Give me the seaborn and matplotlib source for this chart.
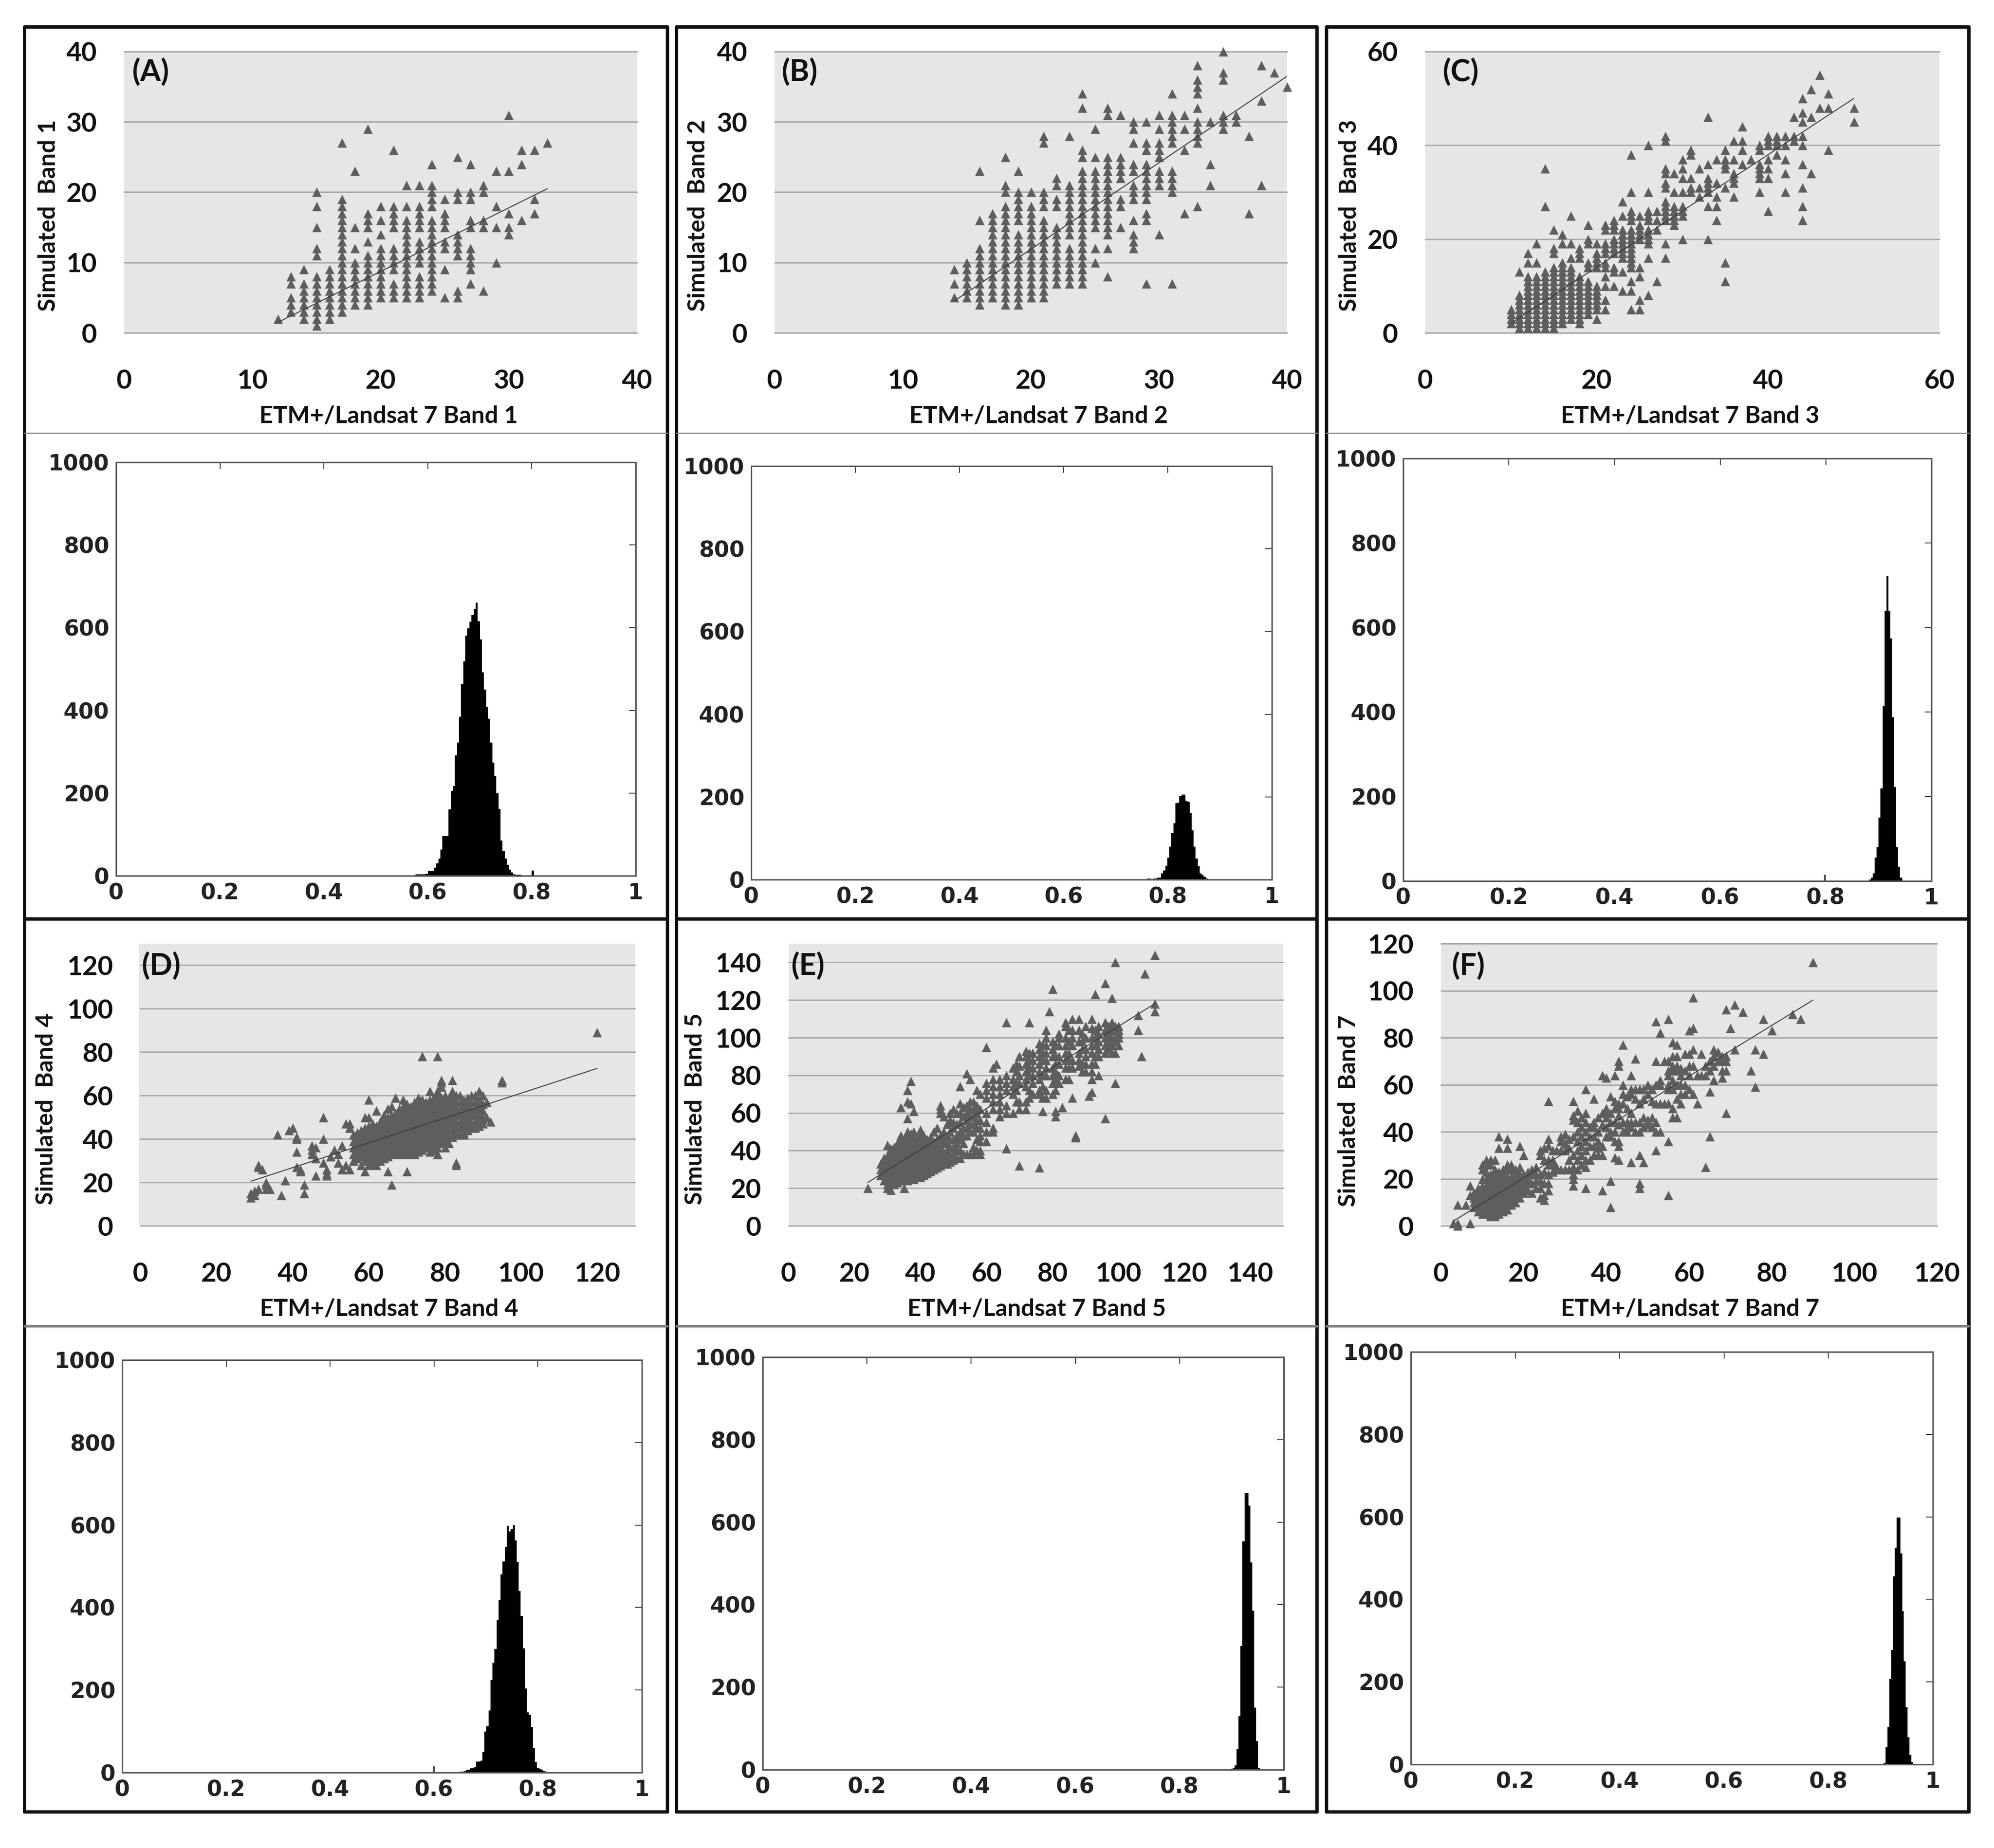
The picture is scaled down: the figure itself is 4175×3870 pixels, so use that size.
#!/usr/bin/env python3
# Simulated vs. ETM+/Landsat 7 bands: scatter and histogram for each band

import matplotlib
matplotlib.use("Agg")
import matplotlib.pyplot as plt
from matplotlib.lines import Line2D
import numpy as np
import seaborn as sns

# Band 1: one entry per x, with all y values of that column
band1_x = [12, 13, 14, 15, 16, 17, 18, 19, 20, 21, 22, 23, 24, 25, 26, 27, 28, 29, 30, 31, 32, 33]
band1_y = [
    [2], [3, 4, 5, 7, 8], [2, 3, 4, 5, 6, 7, 9], [1, 2, 3, 4, 5, 6, 7, 8, 11, 12, 15, 18, 20],
    [2, 3, 4, 5, 6, 7, 8, 9], [3, 4, 5, 6, 7, 8, 9, 10, 11, 12, 13, 14, 15, 16, 17, 18, 19, 27],
    [4, 5, 6, 7, 8, 9, 10, 12, 15, 23], [4, 5, 6, 7, 8, 9, 10, 11, 13, 15, 16, 17, 29],
    [5, 6, 7, 8, 9, 10, 11, 12, 14, 16, 18], [5, 6, 7, 9, 10, 11, 12, 15, 16, 17, 18, 26],
    [5, 6, 7, 8, 9, 10, 11, 12, 13, 14, 15, 16, 18, 21], [5, 6, 7, 8, 10, 11, 12, 13, 15, 16, 17, 18, 21],
    [6, 7, 8, 9, 10, 11, 12, 13, 14, 15, 16, 18, 19, 20, 21, 24], [5, 9, 12, 13, 15, 16, 17, 19],
    [5, 6, 11, 12, 13, 14, 19, 20, 25], [7, 9, 10, 11, 12, 15, 16, 19, 20, 24], [6, 15, 16, 20, 21],
    [10, 15, 18, 23], [14, 15, 17, 23, 31], [16, 24, 26], [17, 19, 26], [27],
]
band1_fit_x = [12, 33]
band1_fit_y = [1.5, 20.5]

band2_x = [14, 15, 16, 17, 18, 19, 20, 21, 22, 23, 24, 25, 26, 27, 28, 29, 30, 31, 32, 33, 34, 35, 36, 37, 38, 39, 40]
band2_y = [
    [5, 7, 9], [5, 6, 7, 8, 9, 10], [4, 5, 6, 7, 8, 9, 10, 11, 12, 16, 23],
    [5, 6, 7, 8, 9, 10, 11, 12, 13, 14, 15, 16, 17],
    [4, 5, 6, 7, 8, 9, 10, 11, 12, 13, 14, 15, 16, 17, 18, 20, 21, 25],
    [4, 5, 6, 7, 8, 9, 10, 11, 12, 13, 14, 16, 17, 18, 19, 20, 23],
    [5, 6, 7, 8, 9, 10, 11, 12, 13, 14, 15, 16, 17, 18, 20],
    [5, 6, 7, 8, 9, 10, 11, 12, 13, 14, 15, 16, 18, 19, 20, 27, 28],
    [7, 8, 9, 10, 11, 12, 13, 14, 15, 18, 19, 21, 22],
    [7, 8, 9, 10, 11, 12, 14, 15, 16, 17, 18, 19, 20, 21, 28],
    [7, 8, 9, 10, 11, 12, 13, 14, 15, 16, 17, 18, 19, 20, 21, 22, 23, 25, 26, 32, 34],
    [10, 12, 15, 16, 17, 18, 19, 20, 21, 22, 23, 25, 29],
    [8, 12, 14, 15, 16, 17, 18, 19, 20, 21, 22, 23, 24, 25, 31, 32],
    [15, 18, 19, 22, 23, 24, 25, 31], [12, 13, 14, 16, 19, 20, 21, 23, 24, 27, 29, 30],
    [7, 16, 17, 19, 20, 21, 22, 23, 24, 26, 27, 30], [14, 21, 22, 23, 25, 26, 27, 29, 31],
    [7, 20, 21, 22, 23, 27, 28, 29, 30, 31, 34], [17, 26, 29, 31], [18, 27, 28, 29, 30, 32, 34, 35, 36, 38],
    [21, 24, 30], [29, 30, 31, 36, 37, 40], [30, 31], [17, 28], [21, 33, 38], [37], [35],
]
band2_fit_x = [14, 40]
band2_fit_y = [4.5, 36.5]

band3_x = [10, 11, 12, 13, 14, 15, 16, 17, 18, 19, 20, 21, 22, 23, 24, 25, 26, 27, 28, 29, 30, 31, 32, 33,
           34, 35, 36, 37, 38, 39, 40, 41, 42, 43, 44, 45, 46, 47, 50]
band3_y = [
    [2, 3, 4, 5], [1, 2, 3, 4, 5, 6, 7, 8, 13], [1, 2, 3, 4, 5, 6, 7, 8, 9, 10, 11, 12, 15, 17],
    [1, 2, 3, 4, 5, 6, 7, 8, 9, 10, 11, 12, 15, 19], [1, 2, 3, 4, 5, 6, 7, 8, 9, 10, 11, 12, 13, 27, 35],
    [1, 2, 3, 4, 5, 6, 7, 8, 9, 10, 11, 12, 13, 14, 17, 18, 22],
    [2, 3, 4, 5, 6, 7, 8, 9, 10, 11, 12, 13, 14, 15, 19, 21],
    [3, 4, 5, 6, 7, 8, 9, 10, 11, 12, 13, 14, 16, 19, 25], [2, 3, 4, 5, 6, 7, 8, 9, 10, 11, 12, 16, 17, 18],
    [4, 5, 6, 7, 8, 9, 10, 11, 14, 15, 19, 20, 23], [3, 5, 6, 7, 8, 9, 10, 14, 15, 16, 17, 19],
    [5, 7, 10, 12, 14, 15, 17, 18, 19, 22, 23], [10, 13, 14, 17, 18, 19, 20, 22, 23, 24],
    [9, 13, 16, 17, 18, 19, 20, 21, 22, 25, 28], [5, 9, 11, 14, 15, 16, 17, 18, 19, 20, 21, 22, 24, 25, 26, 30, 38],
    [5, 7, 12, 14, 20, 21, 22, 23, 25], [8, 16, 19, 20, 21, 22, 24, 25, 26, 30, 40], [11, 22, 24, 26],
    [16, 19, 24, 25, 26, 27, 28, 31, 32, 34, 35, 41, 42], [23, 24, 25, 26, 27, 30, 34],
    [20, 25, 26, 27, 30, 33, 35, 37], [30, 31, 33, 38, 39], [29, 31, 35], [20, 27, 30, 31, 32, 33, 36, 46],
    [24, 27, 29, 32, 37], [11, 15, 31, 35, 36, 37, 39], [29, 32, 33, 34, 37, 41], [36, 39, 41, 44], [37],
    [30, 33, 34, 35, 36, 39, 40], [26, 33, 35, 37, 40, 41, 42], [38, 40, 41, 42], [30, 34, 37, 40, 42],
    [41, 42, 46], [24, 27, 31, 36, 40, 42, 45, 47, 50], [34, 46, 52], [48, 55], [39, 48, 51], [45, 48],
]
band3_fit_x = [10, 50]
band3_fit_y = [2, 50]

# Bands 4, 5 and 7 have a dense cloud (columns) and scattered single points
band4_x = [56, 58, 60, 62, 64, 66, 68, 70, 72, 74, 76, 78, 80, 82, 84, 86, 88, 90,
           57, 59, 61, 63, 65, 67, 69, 71, 73, 75, 77, 79, 81, 83, 85, 87, 89]
band4_y = [
    [30, 33, 36, 39, 42], [28, 32, 35, 38, 41, 44], [28, 31, 34, 37, 40, 43, 46], [28, 31, 34, 37, 40, 43, 46],
    [31, 34, 37, 40, 43, 46, 49], [33, 36, 39, 42, 45, 48, 51], [33, 36, 39, 42, 45, 48, 51, 54],
    [33, 36, 39, 42, 45, 48, 51, 54, 56], [33, 36, 39, 42, 45, 48, 51, 54, 57],
    [35, 38, 41, 44, 47, 50, 53, 56, 58], [34, 37, 40, 43, 46, 49, 52, 55, 58],
    [33, 36, 39, 42, 45, 48, 51, 54, 57, 60], [36, 39, 42, 45, 48, 51, 54, 57, 60],
    [41, 44, 47, 50, 53, 56, 59, 61], [42, 45, 48, 51, 54, 57, 60], [44, 47, 50, 53, 56, 59],
    [45, 48, 51, 54, 57, 60], [47, 50, 53, 56],
    [31, 34, 37, 40, 43], [30, 33, 36, 39, 42, 45], [29, 32, 35, 38, 41, 44, 47], [30, 33, 36, 39, 42, 45, 48],
    [32, 35, 38, 41, 44, 47, 50], [34, 37, 40, 43, 46, 49, 52], [34, 37, 40, 43, 46, 49, 52, 55],
    [34, 37, 40, 43, 46, 49, 52, 55], [34, 37, 40, 43, 46, 49, 52, 55, 58], [36, 39, 42, 45, 48, 51, 54, 57],
    [35, 38, 41, 44, 47, 50, 53, 56, 59], [38, 41, 44, 47, 50, 53, 56, 59], [38, 41, 44, 47, 50, 53, 56, 59],
    [42, 45, 48, 51, 54, 57, 60], [43, 46, 49, 52, 55, 58], [45, 48, 51, 54, 57, 60], [46, 49, 52, 55, 58],
]
band4_sparse_x = [120, 74, 78, 95, 95, 82, 79, 79, 29, 29, 30, 30, 31, 33, 33, 33, 34, 37, 38, 43, 43, 31, 31, 32,
                  36, 39, 40, 41, 41, 41, 41, 42, 42, 46, 45, 45, 45, 46, 46, 48, 48, 48, 49, 49, 49, 50, 51, 52,
                  52, 53, 54, 54, 55, 55, 56, 55, 53, 59, 65, 66, 70, 83, 83, 60, 60, 59, 60, 62, 64, 65, 66, 67,
                  69, 73, 76, 78, 79, 82, 89, 90, 91, 91, 92, 90, 85, 77, 78]
band4_sparse_y = [89, 78, 78, 66, 67, 67, 66, 67, 13, 15, 14, 16, 17, 17, 19, 20, 17, 14, 21, 15, 19, 27, 28, 26,
                  42, 44, 45, 41, 40, 34, 27, 25, 26, 23, 37, 35, 33, 36, 31, 40, 50, 29, 26, 23, 24, 32, 35, 33,
                  29, 37, 28, 47, 47, 45, 30, 26, 26, 25, 25, 19, 25, 28, 29, 58, 45, 50, 50, 53, 51, 54, 55, 59,
                  58, 59, 62, 62, 64, 62, 62, 60, 57, 50, 48, 49, 42, 35, 33]
band4_fit_x = [29, 120]
band4_fit_y = [20.5, 72.5]

band5_x = [28, 30, 32, 34, 36, 38, 40, 42, 44, 46, 48, 50, 52, 54, 56, 58, 60, 62, 64, 66, 68, 70, 72, 74, 76, 78,
           80, 82, 84, 86, 88, 90, 92, 94, 96, 98, 100,
           29, 31, 33, 35, 37, 39, 41, 43, 45, 47, 49, 51, 53, 55, 57, 69, 73, 77, 81, 85, 89, 93, 97, 99]
band5_y = [
    [27, 30, 33], [22, 25, 28, 31, 34, 37, 43], [22, 25, 28, 31, 34, 37, 40, 42],
    [24, 27, 30, 33, 36, 39, 42, 45, 48], [24, 27, 30, 33, 36, 39, 42, 45, 48, 50],
    [25, 28, 31, 34, 37, 40, 43, 46, 50], [26, 29, 32, 35, 38, 41, 44, 48, 51], [28, 31, 34, 37, 40, 43, 46],
    [30, 33, 36, 39, 42, 45, 50], [32, 35, 38, 42, 46, 48, 60, 62, 64], [33, 36, 40, 44, 47, 54],
    [35, 38, 42, 46, 52, 55, 62], [36, 40, 46, 50, 55, 60, 65], [38, 48, 52, 56, 60, 64],
    [38, 42, 50, 54, 58, 62, 66], [38, 40, 45, 48, 52, 56, 62, 70], [45, 50, 55, 60, 68, 72, 76],
    [50, 52, 62, 66, 70, 74, 78], [58, 62, 66, 70, 74, 78], [60, 64, 72, 76, 80], [60, 70, 74, 78, 84],
    [62, 66, 76, 80, 85, 90], [62, 66, 74, 78, 82, 86, 90, 93], [70, 76, 80, 84, 88, 92],
    [70, 72, 78, 82, 86, 90, 94, 97], [68, 72, 80, 84, 88, 92, 96, 100, 104], [70, 76, 80, 84, 90, 94, 98],
    [76, 80, 86, 90, 96, 100, 102], [78, 84, 88, 92, 96, 100, 106, 108], [84, 88, 96, 100, 104, 110],
    [85, 88, 92, 98, 104, 110], [82, 86, 90, 94, 100, 106], [78, 82, 86, 92, 96, 100, 105, 110],
    [80, 90, 94, 98, 102, 106], [92, 96, 100, 104, 108], [92, 96, 100, 104, 108], [96, 100, 102, 104, 106],
    [24, 27, 30, 33, 36], [23, 26, 29, 32, 35, 38, 41], [23, 26, 29, 32, 35, 38, 41, 44],
    [25, 28, 31, 34, 37, 40, 43, 46], [25, 28, 31, 34, 37, 40, 43, 46, 49], [26, 29, 32, 35, 38, 41, 44, 47],
    [27, 30, 33, 36, 39, 42, 45, 48], [29, 32, 35, 38, 41, 44, 47], [31, 34, 37, 40, 43, 46, 52],
    [33, 36, 39, 44, 48, 50, 58], [34, 38, 42, 46, 50, 56, 60], [36, 40, 44, 48, 54, 60], [38, 44, 48, 52, 58, 63],
    [38, 50, 54, 58, 62, 66], [40, 46, 52, 56, 60, 64, 72], [66, 72, 76, 82, 86], [68, 72, 80, 84, 88, 92],
    [68, 74, 80, 88, 92, 96], [72, 78, 82, 86, 90, 96], [78, 84, 88, 92, 98, 104], [82, 86, 94, 98, 102],
    [86, 90, 96, 100, 104], [94, 98, 102, 106], [92, 98, 100, 104, 106],
]
band5_sparse_x = [111, 99, 108, 96, 80, 93, 98, 111, 111, 106, 79, 106, 107, 66, 73, 60, 63, 62, 54, 55, 52, 37, 36,
                  36, 37, 34, 38, 36, 99, 96, 91, 92, 86, 83, 81, 81, 77, 87, 87, 66, 70, 76, 24, 30, 35, 31]
band5_sparse_y = [144, 140, 134, 129, 126, 123, 121, 118, 114, 112, 114, 104, 90, 108, 108, 95, 86, 84, 81, 78, 74,
                  77, 72, 66, 65, 63, 61, 57, 76, 57, 69, 71, 68, 63, 58, 61, 61, 47, 48, 41, 32, 31, 20, 20, 20, 19]
band5_fit_x = [24, 111]
band5_fit_y = [23, 118]

band7_x = [8, 9, 10, 11, 12, 13, 14, 15, 16, 17, 18, 19, 20, 22, 23, 24, 25, 26, 28, 29, 30, 32, 33, 34, 35, 36, 38,
           39, 40, 41, 42, 43, 44, 45, 46, 47, 48, 49, 50, 51, 52, 53, 54, 55, 56, 57, 58, 59, 60, 61, 62, 63, 64,
           65, 66, 67, 68, 69, 21, 27, 31, 37]
band7_y = [
    [8, 10, 12, 14], [6, 8, 10, 12, 14, 16], [5, 7, 9, 11, 13, 15, 17, 20, 24, 26],
    [5, 7, 9, 11, 13, 15, 17, 20, 23, 26, 28],
    [4, 6, 8, 10, 12, 14, 16, 18, 20, 22, 26, 28], [4, 6, 8, 10, 12, 14, 16, 18, 20, 22, 24, 28],
    [5, 7, 9, 11, 13, 15, 17, 19, 21, 23], [6, 8, 10, 12, 14, 16, 18, 20, 22, 24],
    [7, 9, 11, 13, 15, 17, 19, 21, 24, 26],
    [9, 11, 13, 15, 17, 19, 21, 24, 26], [10, 12, 14, 16, 18, 20, 22, 24], [12, 14, 16, 18, 20, 22, 25],
    [14, 16, 18, 20, 22],
    [14, 18, 22, 24], [16, 19, 22, 25], [12, 16, 19, 22, 30, 32], [11, 13, 18, 23, 28, 33],
    [15, 18, 22, 26, 28, 34, 37], [24, 25, 32], [24, 32, 36, 38], [24, 32, 35, 39],
    [20, 22, 25, 30, 38, 45, 47], [24, 28, 32, 36, 40, 44, 49], [26, 30, 34, 38, 42, 46],
    [25, 28, 32, 36, 40, 44, 48], [28, 34, 38, 42], [30, 33, 36, 40, 46], [30, 34, 43, 48, 64],
    [38, 42, 46, 48, 50, 63], [38, 40, 44, 48, 55], [29, 36, 40, 44, 50, 53, 64], [28, 34, 36, 43, 47, 50, 52],
    [40, 44, 52, 56, 60], [40, 42, 44, 50, 55], [27, 42, 44, 48, 56, 58, 64], [40, 44, 54, 58],
    [30, 40, 44, 52, 58], [27, 42, 46, 54, 58], [43, 45, 56, 60], [42, 46, 53, 58], [32, 40, 44, 52, 60, 70],
    [40, 52, 60, 62], [52, 70], [36, 52, 58, 60, 64, 66, 70], [46, 50, 58, 62, 66, 68, 72],
    [46, 54, 60, 66, 68, 72], [52, 56, 60, 64, 67], [56, 60, 66, 73], [58, 64, 68, 73], [56, 68, 75], [52, 64],
    [64, 73], [64, 68], [57, 66, 70], [62, 68, 72, 75], [70, 74], [63, 66, 70, 72], [48, 66, 70, 72],
    [15, 18, 20, 23], [23, 26, 28, 32], [24, 28, 33, 37], [30, 34, 38, 42, 44],
]
band7_sparse_x = [90, 61, 71, 69, 73, 85, 87, 78, 55, 52, 53, 61, 60, 70, 80, 57, 56, 44, 47, 43, 43, 71, 76, 78, 75,
                  76, 26, 35, 37, 32, 65, 64, 55, 48, 48, 41, 41, 39, 35, 32, 14, 16, 14, 16, 19, 20, 7, 7, 6, 4, 7,
                  3, 4, 4]
band7_sparse_y = [112, 97, 94, 92, 91, 90, 88, 88, 88, 87, 82, 84, 83, 84, 83, 77, 78, 77, 71, 70, 68, 75, 75, 73, 66,
                  59, 53, 58, 54, 53, 38, 25, 13, 18, 16, 19, 8, 15, 16, 17, 38, 37, 33, 33, 34, 30, 17, 13, 9, 9, 1,
                  1, 0, 1]
band7_fit_x = [3, 90]
band7_fit_y = [2, 96]

# Histograms: left edge of first bin, bin width, counts
hist1_start = 0.576
hist1_width = 0.004
hist1_counts = [3, 3, 3, 3, 3, 5, 11, 11, 11, 20, 30, 41, 63, 96, 96, 96, 160, 206, 217, 291, 322, 385, 464, 519, 581,
                598, 614, 631, 645, 660, 616, 572, 492, 450, 409, 380, 322, 274, 241, 200, 162, 85, 60, 41, 27, 15, 8,
                4, 2, 2, 2, 1, 1, 1, 1, 1, 13]
hist2_start = 0.76
hist2_width = 0.0039
hist2_counts = [2, 2, 1, 2, 2, 5, 5, 15, 22, 34, 53, 80, 113, 136, 185, 186, 202, 206, 206, 190, 188, 161, 119, 80, 51,
                32, 15, 11, 7, 2]
hist3_start = 0.8815
hist3_width = 0.0037
hist3_counts = [3, 8, 18, 55, 80, 150, 219, 415, 639, 722, 640, 574, 388, 223, 80, 34, 8]
hist4_start = 0.65
hist4_width = 0.0039
hist4_counts = [2, 2, 4, 7, 7, 10, 10, 14, 27, 27, 29, 50, 100, 112, 150, 225, 266, 300, 370, 418, 480, 511, 548, 598,
                585, 590, 600, 562, 510, 440, 380, 301, 204, 146, 140, 110, 60, 25, 11, 9, 7, 3, 2]
hist5_start = 0.8985
hist5_width = 0.0037
hist5_counts = [2, 4, 10, 50, 130, 300, 553, 671, 671, 640, 502, 385, 150, 70, 5]
hist7_start = 0.906
hist7_width = 0.0035
hist7_counts = [3, 43, 91, 207, 278, 456, 525, 598, 598, 511, 372, 250, 139, 66, 23, 6]

# Single small bars away from the main peak
hist3_spike = (0.7987, 15)
hist4_spike = (0.5997, 15)

panel_letters = ["(A)", "(B)", "(C)", "(D)", "(E)", "(F)"]
band_numbers = [1, 2, 3, 4, 5, 7]
hist_ticks = [0, 0.2, 0.4, 0.6, 0.8, 1]
hist_tick_labels = ["0", "0.2", "0.4", "0.6", "0.8", "1"]
hist_y_ticks = [0, 200, 400, 600, 800, 1000]

# Layout in pixels of the final picture
W, H = 4175, 3870
MARKER_GREY = "#5e5e5e"
GRID_GREY = "#ababab"
BG_GREY = "#e6e6e6"

scatter_boxes = [(260, 108, 1334, 697), (1622, 108, 2695, 697), (2984, 108, 4061, 697),
                 (294, 1976, 1330, 2567), (1651, 1976, 2687, 2567), (3017, 1976, 4056, 2567)]
scatter_bg_left = [260, 1622, 2984, 291, 1651, 3017]
hist_boxes = [(243, 968, 1331, 1834), (1573, 976, 2663, 1842), (2938, 960, 4044, 1845),
              (256, 2848, 1344, 3712), (1597, 2842, 2688, 3706), (2954, 2831, 4047, 3695)]
scatter_limits = [40, 40, 60, 130, 150, 120]
scatter_steps = [
    ([0, 10, 20, 30, 40], [0, 10, 20, 30, 40]),
    ([0, 10, 20, 30, 40], [0, 10, 20, 30, 40]),
    ([0, 20, 40, 60], [0, 20, 40, 60]),
    ([0, 20, 40, 60, 80, 100, 120], [0, 20, 40, 60, 80, 100, 120]),
    ([0, 20, 40, 60, 80, 100, 120, 140], [0, 20, 40, 60, 80, 100, 120, 140]),
    ([0, 20, 40, 60, 80, 100, 120], [0, 20, 40, 60, 80, 100, 120]),
]
xlabel_pos = [(814, 871), (2175, 871), (3539, 871), (815, 2741), (2171, 2741), (3539, 2741)]
ylabel_pos = [(102, 451), (1462, 451), (2825, 451), (97, 2322), (1455, 2322), (2823, 2326)]
letter_pos = [(316, 151), (1675, 151), (3059, 151), (338, 2023), (1692, 2023), (3075, 2023)]


def px(n):
    # figure runs at 100 dpi, so this turns pixels into points
    return n * 0.72


def add_axes_px(fig, box):
    l, t, r, b = box
    return fig.add_axes([l / W, 1 - b / H, (r - l) / W, (b - t) / H])


def expand(xs, ys, sparse_x=None, sparse_y=None):
    all_x = [x for x, col in zip(xs, ys) for _ in col]
    all_y = [y for col in ys for y in col]
    if sparse_x is not None:
        all_x = all_x + sparse_x
        all_y = all_y + sparse_y
    return all_x, all_y


def draw_scatter(fig, idx, xs, ys, fit_x, fit_y):
    ax = add_axes_px(fig, scatter_boxes[idx])
    limit = scatter_limits[idx]
    xticks, yticks = scatter_steps[idx]
    ax.set_xlim(0, limit)
    ax.set_ylim(0, limit)
    ax.set_facecolor("none")
    l, t, r, b = scatter_boxes[idx]
    fig.patches.append(plt.Rectangle((scatter_bg_left[idx] / W, 1 - b / H), (r - scatter_bg_left[idx]) / W, (b - t) / H,
                                     transform=fig.transFigure, facecolor=BG_GREY, edgecolor="none", zorder=-1))
    for y in yticks:
        ax.axhline(y, color=GRID_GREY, lw=px(3), zorder=1, clip_on=False)
    sns.scatterplot(x=xs, y=ys, ax=ax, marker="^", s=200, color=MARKER_GREY, linewidth=0, zorder=3, clip_on=False)
    sns.lineplot(x=fit_x, y=fit_y, ax=ax, color="#3c3c3c", lw=px(2), zorder=4, errorbar=None)
    for side in ["top", "right", "bottom", "left"]:
        ax.spines[side].set_visible(False)
    ax.set_xticks(xticks)
    ax.set_yticks(yticks)
    ax.tick_params(axis="y", length=px(17), width=px(3), color=GRID_GREY, pad=px(40), labelsize=40, labelcolor="#111111")
    ax.tick_params(axis="x", length=px(18), width=px(3), color="#d2d2d2", pad=px(58), labelsize=40, labelcolor="#111111")
    for lab in ax.get_xticklabels() + ax.get_yticklabels():
        lab.set_fontweight("bold")
    num = band_numbers[idx]
    x, y = xlabel_pos[idx]
    fig.text(x / W, 1 - y / H, f"ETM+/Landsat 7 Band {num}", ha="center", va="center", fontsize=36,
             fontweight="bold", color="#111111")
    x, y = ylabel_pos[idx]
    fig.text(x / W, 1 - y / H, f"Simulated  Band {num}", ha="center", va="center", rotation=90, fontsize=36,
             fontweight="bold", color="#111111")
    x, y = letter_pos[idx]
    fig.text(x / W, 1 - y / H, panel_letters[idx], ha="center", va="center", fontsize=45,
             fontweight="bold", color="#111111")


def draw_hist(fig, idx, start, width, counts, spike=None):
    ax = add_axes_px(fig, hist_boxes[idx])
    edges = start + width * np.arange(len(counts) + 1)
    centers = edges[:-1] + width / 2
    sns.histplot(x=list(centers), weights=counts, bins=list(edges), ax=ax, element="step", fill=True, color="black",
                 alpha=1, linewidth=0)
    if spike is not None:
        sns.histplot(x=[spike[0]], weights=[spike[1]], bins=[spike[0] - width / 2, spike[0] + width / 2], ax=ax,
                     element="step", fill=True, color="#555555", alpha=1, linewidth=0)
    ax.set_xlim(0, 1)
    ax.set_ylim(0, 1000)
    ax.set_xlabel("")
    ax.set_ylabel("")
    ax.set_xticks(hist_ticks)
    ax.set_xticklabels(hist_tick_labels)
    ax.set_yticks(hist_y_ticks)
    ax.tick_params(direction="in", top=True, right=True, length=px(14), width=px(2), color="#444444",
                   pad=px(14), labelsize=33, labelcolor="#222222")
    for lab in ax.get_xticklabels() + ax.get_yticklabels():
        lab.set_fontfamily("DejaVu Sans")
        lab.set_fontweight("bold")
    for side in ax.spines:
        ax.spines[side].set_visible(True)
        ax.spines[side].set_color("#555555")
        ax.spines[side].set_linewidth(px(3))


def draw_table_lines(fig):
    columns = [(51, 1397), (1416, 2757), (2777, 4122)]
    top, mid, bottom = 56, 1924, 3794
    for left, right in columns:
        for x in (left, right):
            fig.add_artist(Line2D([x / W, x / W], [1 - top / H, 1 - bottom / H], color="#101010", lw=px(7)))
        for y in (top, mid, bottom):
            fig.add_artist(Line2D([left / W, right / W], [1 - y / H, 1 - y / H], color="#101010", lw=px(7)))
        fig.add_artist(Line2D([left / W, right / W], [1 - 907 / H, 1 - 907 / H], color="#8a8a8a", lw=px(3)))
        fig.add_artist(Line2D([left / W, right / W], [1 - 2777 / H, 1 - 2777 / H], color="#808080", lw=px(5)))


def main():
    sns.set_theme(style="white")
    plt.rcParams["font.family"] = ["Lato", "DejaVu Sans"]

    fig = plt.figure(figsize=(W / 100, H / 100), dpi=100, facecolor="white")

    x1, y1 = expand(band1_x, band1_y)
    x2, y2 = expand(band2_x, band2_y)
    x3, y3 = expand(band3_x, band3_y)
    x4, y4 = expand(band4_x, band4_y, band4_sparse_x, band4_sparse_y)
    x5, y5 = expand(band5_x, band5_y, band5_sparse_x, band5_sparse_y)
    x7, y7 = expand(band7_x, band7_y, band7_sparse_x, band7_sparse_y)

    draw_scatter(fig, 0, x1, y1, band1_fit_x, band1_fit_y)
    draw_scatter(fig, 1, x2, y2, band2_fit_x, band2_fit_y)
    draw_scatter(fig, 2, x3, y3, band3_fit_x, band3_fit_y)
    draw_scatter(fig, 3, x4, y4, band4_fit_x, band4_fit_y)
    draw_scatter(fig, 4, x5, y5, band5_fit_x, band5_fit_y)
    draw_scatter(fig, 5, x7, y7, band7_fit_x, band7_fit_y)

    draw_hist(fig, 0, hist1_start, hist1_width, hist1_counts)
    draw_hist(fig, 1, hist2_start, hist2_width, hist2_counts)
    draw_hist(fig, 2, hist3_start, hist3_width, hist3_counts, hist3_spike)
    draw_hist(fig, 3, hist4_start, hist4_width, hist4_counts, hist4_spike)
    draw_hist(fig, 4, hist5_start, hist5_width, hist5_counts)
    draw_hist(fig, 5, hist7_start, hist7_width, hist7_counts)

    draw_table_lines(fig)
    fig.savefig("out.png", dpi=100, facecolor="white")


if __name__ == "__main__":
    main()
